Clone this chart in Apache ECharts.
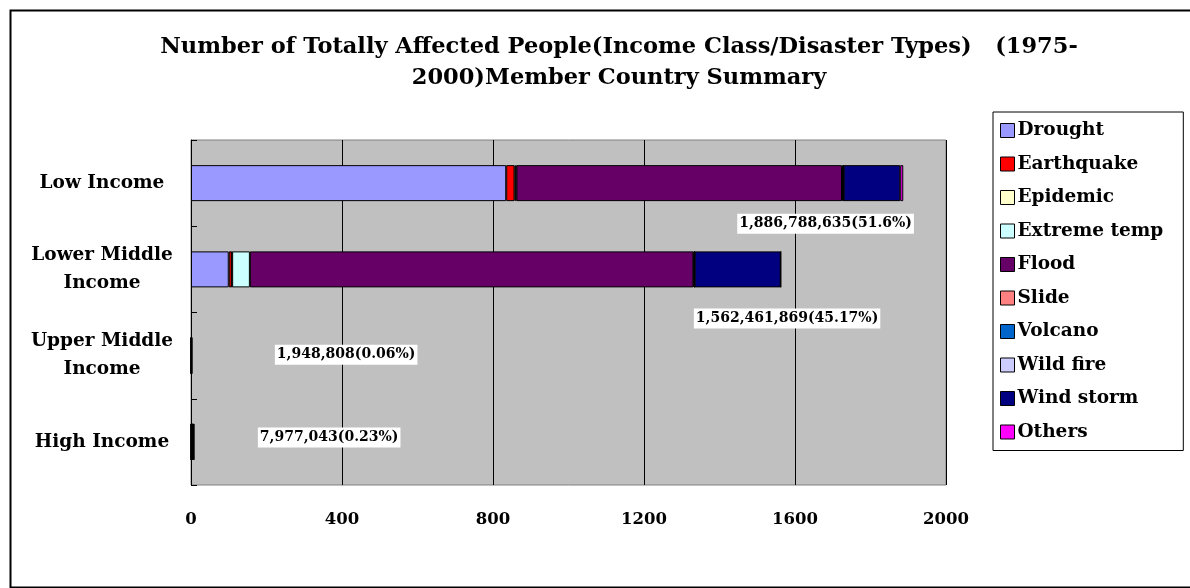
<!DOCTYPE html>
<html>
<head>
<meta charset="utf-8">
<script src="https://cdn.jsdelivr.net/npm/echarts@6/dist/echarts.min.js"></script>
<style>
  html, body { margin: 0; padding: 0; background: #fff; }
  #chart { width: 1190px; height: 588px; }
</style>
</head>
<body>
<div id="chart"></div>
<script>
// income classes (top to bottom)
const incomeClasses = ["Low Income", "Lower Middle\nIncome", "Upper Middle\nIncome", "High Income"];
// disaster types, values in millions of people
const disasterTypes = ["Drought", "Earthquake", "Epidemic", "Extreme temp", "Flood", "Slide", "Volcano", "Wild fire", "Wind storm", "Others"];
const drought     = [835,   100,   0.3,  0.5];
const earthquake  = [22,    8,     0.3,  0.3];
const epidemic    = [3,     1,     0.1,  0.05];
const extremeTemp = [2,     47,    0.1,  0.05];
const flood       = [862.5, 1175,  0.6,  3.5];
const slide       = [3,     2,     0.1,  0.05];
const volcano     = [1,     1,     0.05, 0.02];
const wildFire    = [0.3,   0.2,   0.05, 0.03];
const windStorm   = [150,   228,   0.3,  3.2];
const others      = [8,     0.26,  0.05, 0.28];
const totalLabels = ["1,886,788,635(51.6%)", "1,562,461,869(45.17%)", "1,948,808(0.06%)", "7,977,043(0.23%)"];
const xTicks = [0, 400, 800, 1200, 1600, 2000];

const seriesValues = [drought, earthquake, epidemic, extremeTemp, flood, slide, volcano, wildFire, windStorm, others];
const colors = ["#9999FF", "#FF0000", "#FFFFCC", "#CCFFFF", "#660066", "#FF8080", "#0066CC", "#CCCCFF", "#000080", "#FF00FF"];

// where the data labels sit: [x value, position on a 0..4 band scale]
const labelPlace = [[1681, 0.97], [1579, 2.07], [411, 2.49], [366, 3.45]];

const FONT = "DejaVu Serif";

const barSeries = disasterTypes.map((name, i) => ({
  name: name,
  type: "bar",
  stack: "total",
  barWidth: 36,
  data: seriesValues[i],
  itemStyle: { color: colors[i], borderColor: "#000", borderWidth: 1 },
  emphasis: { disabled: true }
}));

const labelSeries = {
  name: "labels",
  type: "scatter",
  yAxisIndex: 1,
  symbolSize: 0,
  silent: true,
  itemStyle: { opacity: 1 },
  data: labelPlace.map((p, i) => ({ value: p, label: { formatter: totalLabels[i] } })),
  label: {
    show: true,
    position: "inside",
    fontFamily: FONT,
    fontWeight: "bold",
    fontSize: 14,
    color: "#000",
    textBorderWidth: 0,
    opacity: 1,
    backgroundColor: "#ffffff",
    padding: [3, 2, 3, 2]
  }
};

const chart = echarts.init(document.getElementById("chart"));
chart.setOption({
  animation: false,
  title: {
    text: "Number of Totally Affected People(Income Class/Disaster Types)   (1975-\n2000)Member Country Summary",
    left: 614,
    top: 27,
    textAlign: "center",
    textStyle: { fontFamily: FONT, fontWeight: "bold", fontSize: 22.5, color: "#000", lineHeight: 31 }
  },
  legend: {
    data: disasterTypes,
    orient: "vertical",
    left: 993,
    top: 112,
    icon: "rect",
    itemWidth: 14,
    itemHeight: 14,
    itemGap: 14.5,
    padding: [9, 20, 9, 7],
    backgroundColor: "#fff",
    borderColor: "#000",
    borderWidth: 1,
    itemStyle: { borderColor: "#000", borderWidth: 1 },
    textStyle: { fontFamily: FONT, fontWeight: "bold", fontSize: 18.5, color: "#000", padding: [0, 0, 0, -2] }
  },
  grid: {
    left: 191,
    right: 244,
    top: 140,
    bottom: 103,
    show: true,
    backgroundColor: "#C0C0C0",
    borderColor: "#808080",
    borderWidth: 1
  },
  xAxis: {
    type: "value",
    min: 0,
    max: 2000,
    interval: 400,
    axisLine: { show: false },
    axisTick: { show: false },
    splitLine: { show: true, lineStyle: { color: "#000", width: 1 } },
    axisLabel: {
      margin: 26,
      fontFamily: FONT,
      fontWeight: "bold",
      fontSize: 16.5,
      color: "#000",
      formatter: v => xTicks.includes(v) ? String(v) : ""
    }
  },
  yAxis: [
    {
      type: "category",
      inverse: true,
      data: incomeClasses,
      axisLine: { show: true, lineStyle: { color: "#000", width: 1 } },
      axisTick: { show: true, inside: true, length: 6, lineStyle: { color: "#000" } },
      axisLabel: {
        align: "center",
        margin: 89,
        fontFamily: FONT,
        fontWeight: "bold",
        fontSize: 18.5,
        lineHeight: 28,
        color: "#000"
      }
    },
    {
      type: "value",
      min: 0,
      max: 4,
      inverse: true,
      show: false
    }
  ],
  series: barSeries.concat([labelSeries]),
  graphic: [{
    type: "rect",
    left: 8,
    top: 8,
    shape: { width: 1200, height: 577 },
    style: { fill: "none", stroke: "#000", lineWidth: 2 },
    silent: true,
    z: -1
  }]
});
</script>
</body>
</html>
